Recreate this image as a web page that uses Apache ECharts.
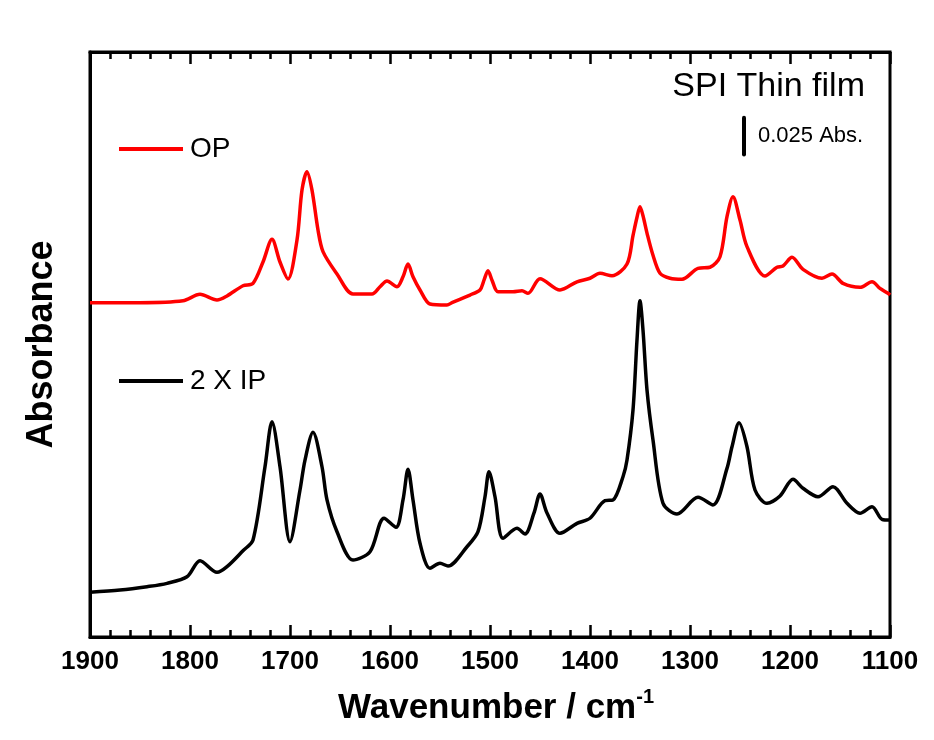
<!DOCTYPE html>
<html>
<head>
<meta charset="utf-8">
<script src="https://cdn.jsdelivr.net/npm/echarts@6/dist/echarts.min.js"></script>
<style>
  html, body { margin: 0; padding: 0; background: #fff; }
  #chart { width: 934px; height: 740px; }
</style>
</head>
<body>
<div id="chart"></div>
<script>
// 波数 / 吸光度
const opWave = [1900, 1850, 1807, 1790, 1773, 1763, 1747, 1737, 1727, 1718, 1710, 1702, 1693, 1688, 1683, 1678, 1672, 1667, 1653, 1637, 1618, 1610, 1603, 1593, 1587, 1582, 1577, 1570, 1560, 1543, 1538, 1520, 1510, 1506, 1502, 1498, 1492, 1477, 1468, 1462, 1450, 1430, 1413, 1400, 1390, 1378, 1363, 1357, 1353, 1350, 1347, 1343, 1337, 1330, 1320, 1308, 1292, 1280, 1270, 1263, 1257, 1250, 1243, 1225, 1213, 1207, 1198, 1187, 1168, 1158, 1147, 1130, 1118, 1110, 1102, 1100]
const opAbs = [0.2286, 0.2286, 0.2299, 0.2343, 0.2304, 0.2332, 0.2402, 0.2418, 0.2564, 0.2719, 0.2564, 0.2448, 0.2715, 0.3056, 0.3182, 0.3056, 0.2783, 0.2635, 0.2482, 0.2345, 0.2345, 0.2395, 0.2434, 0.2395, 0.2463, 0.2550, 0.2463, 0.2373, 0.2277, 0.2270, 0.2286, 0.2338, 0.2373, 0.2440, 0.2505, 0.2440, 0.2361, 0.2361, 0.2368, 0.2350, 0.2450, 0.2373, 0.2429, 0.2453, 0.2487, 0.2470, 0.2550, 0.2745, 0.2870, 0.2942, 0.2880, 0.2762, 0.2610, 0.2487, 0.2453, 0.2446, 0.2521, 0.2528, 0.2600, 0.2874, 0.3011, 0.2851, 0.2669, 0.2468, 0.2528, 0.2537, 0.2596, 0.2514, 0.2453, 0.2482, 0.2418, 0.2391, 0.2429, 0.2384, 0.2350, 0.2338]

const ipWave = [1900, 1870, 1843, 1823, 1803, 1790, 1773, 1763, 1747, 1737, 1725, 1718, 1710, 1700, 1690, 1685, 1677, 1668, 1663, 1653, 1637, 1620, 1606, 1594, 1587, 1582, 1577, 1570, 1560, 1550, 1542, 1523, 1512, 1505, 1501, 1495, 1487, 1473, 1465, 1456, 1450, 1443, 1430, 1413, 1400, 1385, 1377, 1367, 1363, 1357, 1353, 1350, 1347, 1343, 1337, 1327, 1313, 1292, 1277, 1263, 1258, 1251, 1243, 1235, 1223, 1210, 1197, 1187, 1172, 1157, 1143, 1130, 1118, 1108, 1100]
const ipAbs = [0.0306, 0.0321, 0.0344, 0.0367, 0.0412, 0.0522, 0.0442, 0.0481, 0.0590, 0.0663, 0.1164, 0.1472, 0.1164, 0.0652, 0.1005, 0.1210, 0.1400, 0.1164, 0.0937, 0.0720, 0.0526, 0.0583, 0.0812, 0.0750, 0.0937, 0.1147, 0.0937, 0.0641, 0.0470, 0.0504, 0.0485, 0.0617, 0.0720, 0.0959, 0.1130, 0.0959, 0.0675, 0.0743, 0.0704, 0.0848, 0.0978, 0.0848, 0.0709, 0.0777, 0.0812, 0.0932, 0.0937, 0.1096, 0.1210, 0.1552, 0.2031, 0.2299, 0.2099, 0.1689, 0.1347, 0.0914, 0.0841, 0.0955, 0.0903, 0.1153, 0.1301, 0.1465, 0.1301, 0.1005, 0.0914, 0.0964, 0.1078, 0.1017, 0.0959, 0.1028, 0.0914, 0.0846, 0.0891, 0.0805, 0.0800]

// 标尺 0.025 Abs.
const scaleBarWave = [1246, 1246]
const scaleBarAbs = [0.330, 0.355]

const xTicks = [1900, 1800, 1700, 1600, 1500, 1400, 1300, 1200, 1100]

const zip = (xs, ys) => xs.map((x, i) => [x, ys[i]])

const chart = echarts.init(document.getElementById('chart'))

// 上下两条 x 轴的公共配置
const xBase = {
  type: 'value',
  min: 1100,
  max: 1900,
  interval: 100,
  inverse: true,
  axisLine: { show: true, lineStyle: { color: '#000', width: 3 } },
  axisTick: { inside: true, length: 12, lineStyle: { color: '#000', width: 2.5 } },
  minorTick: { show: true, splitNumber: 5, length: 7, lineStyle: { color: '#000', width: 2.5 } },
  splitLine: { show: false },
  minorSplitLine: { show: false }
}

const legendText = { fontFamily: 'Arial, Liberation Sans', fontSize: 28, color: '#000', padding: [0, 0, 0, 2] }

const option = {
  animation: false,
  backgroundColor: '#fff',
  grid: {
    left: 90, right: 44, top: 52, bottom: 103,
    show: true, borderColor: '#000', borderWidth: 3
  },
  xAxis: [
    Object.assign({}, xBase, {
      position: 'bottom',
      axisLabel: {
        color: '#000', fontFamily: 'Arial, Liberation Sans', fontWeight: 'bold', fontSize: 26, margin: 12,
        formatter: v => xTicks.includes(v) ? String(v) : ''
      },
      name: '{a|Wavenumber / cm}{s|-1}',
      nameLocation: 'middle',
      nameGap: 50,
      nameTextStyle: {
        padding: [0, 0, 0, 12],
        rich: {
          a: { fontFamily: 'Arial, Liberation Sans', fontWeight: 'bold', fontSize: 35, color: '#000', lineHeight: 42 },
          s: { fontFamily: 'Arial, Liberation Sans', fontWeight: 'bold', fontSize: 20, color: '#000', verticalAlign: 'top', lineHeight: 42 }
        }
      }
    }),
    Object.assign({}, xBase, { position: 'top', axisLabel: { show: false } })
  ],
  yAxis: {
    type: 'value',
    min: 0,
    max: 0.4,
    axisLine: { show: true, lineStyle: { color: '#000', width: 3 } },
    axisTick: { show: false },
    axisLabel: { show: false },
    splitLine: { show: false },
    name: 'Absorbance',
    nameLocation: 'middle',
    nameGap: 30,
    nameTextStyle: { fontFamily: 'Arial, Liberation Sans', fontWeight: 'bold', fontSize: 36, color: '#000' }
  },
  legend: [
    {
      data: ['OP'], left: 119, top: 135, padding: 0, icon: 'rect', itemWidth: 64, itemHeight: 4,
      textStyle: legendText
    },
    {
      data: ['2 X IP'], left: 119, top: 367, padding: 0, icon: 'rect', itemWidth: 64, itemHeight: 4,
      textStyle: legendText
    }
  ],
  graphic: [
    {
      type: 'text', right: 69, top: 70,
      style: { text: 'SPI Thin film', font: '34px Arial, "Liberation Sans"', fill: '#000' }
    },
    {
      type: 'text', left: 758, top: 125,
      style: { text: '0.025 Abs.', font: '22px Arial, "Liberation Sans"', fill: '#000' }
    }
  ],
  series: [
    {
      name: 'OP', type: 'line', data: zip(opWave, opAbs), symbol: 'none', smooth: 0.3,
      color: '#ff0000', lineStyle: { color: '#ff0000', width: 3.5 }
    },
    {
      name: '2 X IP', type: 'line', data: zip(ipWave, ipAbs), symbol: 'none', smooth: 0.3,
      color: '#000', lineStyle: { color: '#000', width: 3.5 }
    },
    {
      name: 'scale', type: 'line', data: zip(scaleBarWave, scaleBarAbs), symbol: 'none',
      lineStyle: { color: '#000', width: 4, cap: 'round' }
    }
  ]
}

chart.setOption(option)
</script>
</body>
</html>
